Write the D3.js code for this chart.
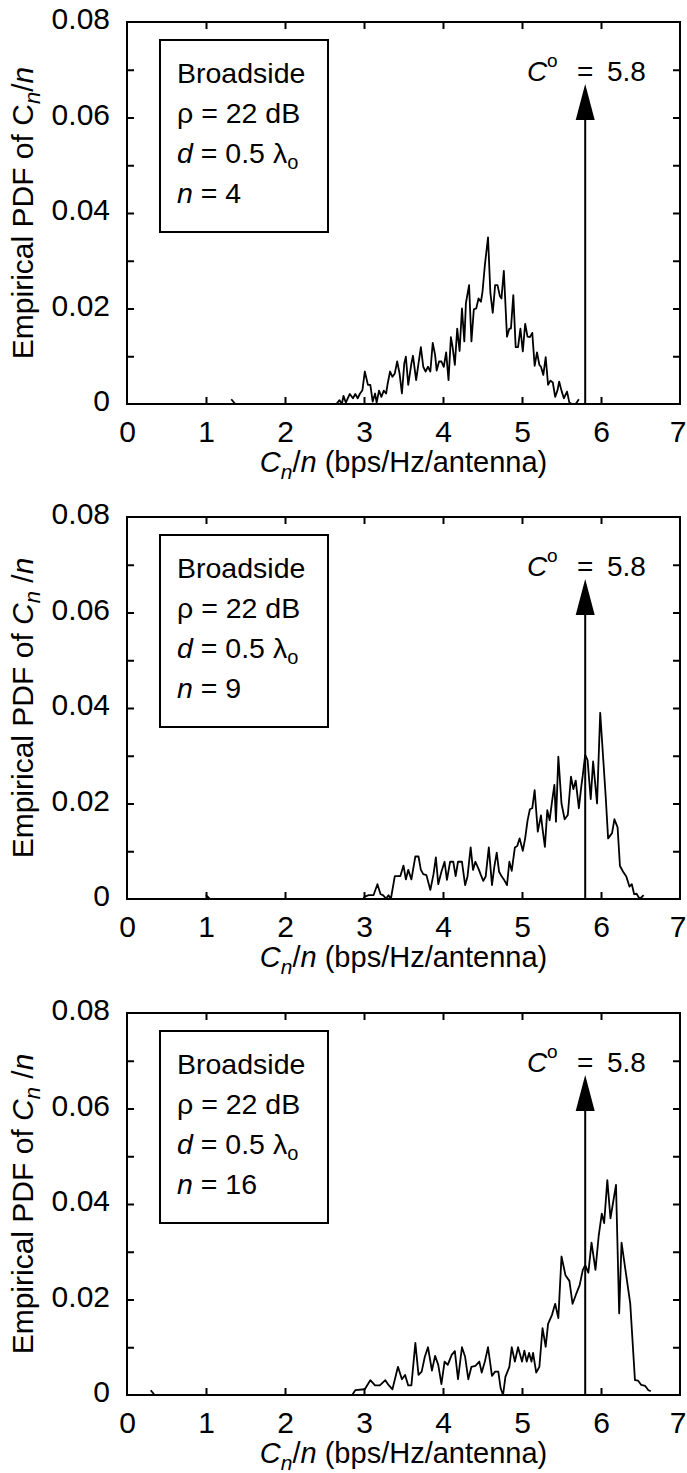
<!DOCTYPE html>
<head>
    <meta name="viewport" content="width=device-width, initial-scale=1">
    <style>
        body{
            margin:0;
            background:#fff;
        }
        svg{
            display:block;
            font-family: "Liberation Sans", Arial, sans-serif;
        }
        .frame{
            fill:none;
            stroke:#000;
            stroke-width:2px;
        }
        .ticks line{
            stroke:#000;
            stroke-width:2px;
        }
        .ticks .domain, .labels .domain{
            display:none;
        }
        .labels text{
            font-size:30px;
            fill:#000;
        }
        .curve{
            fill:none;
            stroke:#000;
            stroke-width:1.8px;
            stroke-linejoin:round;
        }
        .legend-box{
            fill:#fff;
            stroke:#000;
            stroke-width:2px;
        }
        .legend{
            font-size:28.5px;
            fill:#000;
        }
        .note{
            font-size:28px;
            fill:#000;
        }
        .axis-title{
            font-size:29px;
            fill:#000;
        }
        .y-title{
            font-size:30px;
        }
    </style>
</head>
<body>
    <div id="chart"></div>
    <script src="https://d3js.org/d3.v7.min.js"></script>
    <script>
        // data: empirical pdf of C_n/n for n = 4, 9, 16
        var xTickLabels = [0, 1, 2, 3, 4, 5, 6, 7];
        var yTickLabels = ["0", "0.02", "0.04", "0.06", "0.08"];
        var yTickValues = [0, 0.02, 0.04, 0.06, 0.08];
        var antennaCounts = [4, 9, 16];
        var capacityOpt = 5.8;
        var arrowBase = 0.0595, arrowTip = 0.067;

        var pdfN4 = [
            [1.32,0.0010],[1.37,0],[2.65,0],[2.69,0.0008],[2.72,0],[2.74,0.0017],[2.77,0.0003],[2.82,0.0021],
            [2.86,0.0012],[2.89,0.0021],[2.92,0.0012],[2.95,0.0022],[2.98,0.0029],[3.01,0.0068],[3.05,0.0040],
            [3.08,0.0040],[3.11,0.0005],[3.14,0.0022],[3.16,0.0003],[3.19,0.0028],[3.22,0.0015],[3.25,0.0028],
            [3.28,0.0022],[3.30,0.0043],[3.33,0.0068],[3.36,0.0057],[3.39,0.0064],[3.42,0.0089],[3.45,0.0064],
            [3.48,0.0022],[3.51,0.0085],[3.53,0.0099],[3.56,0.0040],[3.60,0.0085],[3.62,0.0101],[3.66,0.0050],
            [3.69,0.0085],[3.72,0.0119],[3.75,0.0078],[3.78,0.0068],[3.81,0.0078],[3.84,0.0068],[3.87,0.0128],
            [3.90,0.0103],[3.92,0.0070],[3.95,0.0089],[3.98,0.0089],[4.01,0.0078],[4.04,0.0108],[4.07,0.0050],
            [4.10,0.0140],[4.12,0.0121],[4.15,0.0082],[4.18,0.0158],[4.21,0.0111],[4.24,0.0200],[4.27,0.0131],
            [4.29,0.0211],[4.33,0.0249],[4.36,0.0131],[4.39,0.0198],[4.42,0.0200],[4.45,0.0221],[4.48,0.0214],
            [4.50,0.0235],[4.53,0.0291],[4.57,0.0349],[4.60,0.0232],[4.63,0.0191],[4.66,0.0249],[4.69,0.0249],
            [4.72,0.0226],[4.74,0.0221],[4.77,0.0279],[4.81,0.0141],[4.84,0.0158],[4.86,0.0158],[4.89,0.0228],
            [4.92,0.0119],[4.95,0.0119],[4.98,0.0158],[5.01,0.0110],[5.04,0.0168],[5.07,0.0141],[5.10,0.0140],
            [5.13,0.0149],[5.16,0.0080],[5.19,0.0108],[5.22,0.0082],[5.24,0.0078],[5.27,0.0061],[5.30,0.0098],
            [5.33,0.0040],[5.36,0.0049],[5.39,0.0045],[5.42,0.0015],[5.45,0.0029],[5.47,0.0047],[5.50,0.0028],
            [5.53,0.0012],[5.57,0.0026],[5.60,0.0003],[5.63,0],[5.68,0],[5.72,0.0010]
        ];

        var pdfN9 = [
            [1.00,0.0008],[1.05,0],[2.99,0],[3.01,0.0005],[3.06,0.0008],[3.12,0.0008],[3.17,0.0031],[3.21,0.0010],
            [3.24,0.0008],[3.28,0.0001],[3.31,0.0008],[3.34,0],[3.39,0.0048],[3.46,0.0048],[3.50,0.0070],
            [3.53,0.0041],[3.56,0.0061],[3.60,0.0041],[3.65,0.0089],[3.69,0.0089],[3.72,0.0061],[3.75,0.0052],
            [3.79,0.0050],[3.84,0.0019],[3.88,0.0052],[3.91,0.0087],[3.94,0.0031],[3.98,0.0057],[4.02,0.0078],
            [4.05,0.0040],[4.09,0.0078],[4.13,0.0078],[4.16,0.0048],[4.19,0.0078],[4.24,0.0078],[4.28,0.0029],
            [4.31,0.0047],[4.35,0.0108],[4.38,0.0061],[4.41,0.0078],[4.45,0.0063],[4.48,0.0050],[4.51,0.0038],
            [4.54,0.0047],[4.58,0.0108],[4.62,0.0029],[4.65,0.0068],[4.68,0.0097],[4.71,0.0057],[4.74,0.0048],
            [4.77,0.0041],[4.81,0.0029],[4.84,0.0078],[4.87,0.0059],[4.91,0.0108],[4.94,0.0111],[4.97,0.0127],
            [5.01,0.0101],[5.04,0.0127],[5.07,0.0164],[5.10,0.0188],[5.13,0.0190],[5.16,0.0228],[5.20,0.0141],
            [5.24,0.0175],[5.26,0.0147],[5.29,0.0109],[5.32,0.0186],[5.35,0.0165],[5.38,0.0204],[5.41,0.0239],
            [5.43,0.0162],[5.46,0.0298],[5.50,0.0200],[5.54,0.0167],[5.58,0.0176],[5.62,0.0256],[5.65,0.0230],
            [5.68,0.0248],[5.72,0.0190],[5.75,0.0235],[5.77,0.0260],[5.80,0.0302],[5.83,0.0291],[5.87,0.0209],
            [5.90,0.0288],[5.95,0.0200],[5.99,0.0390],[6.06,0.0213],[6.09,0.0127],[6.14,0.0138],[6.17,0.0167],
            [6.21,0.0150],[6.24,0.0069],[6.28,0.0057],[6.32,0.0047],[6.36,0.0026],[6.39,0.0031],[6.42,0.0010],
            [6.45,0.0011],[6.49,0],[6.54,0.0008]
        ];

        var pdfN16 = [
            [0.30,0.0010],[0.35,0],[2.85,0],[2.89,0.0010],[3.01,0.0012],[3.08,0.0031],[3.14,0.0020],[3.20,0.0020],
            [3.27,0.0031],[3.31,0.0021],[3.36,0.0012],[3.43,0.0059],[3.48,0.0033],[3.52,0.0042],[3.56,0.0020],
            [3.60,0.0020],[3.65,0.0109],[3.69,0.0042],[3.73,0.0049],[3.77,0.0080],[3.81,0.0100],[3.86,0.0051],
            [3.90,0.0082],[3.94,0.0063],[3.98,0.0023],[4.02,0.0070],[4.06,0.0063],[4.11,0.0084],[4.15,0.0092],
            [4.19,0.0033],[4.24,0.0100],[4.28,0.0080],[4.32,0.0033],[4.36,0.0059],[4.41,0.0061],[4.46,0.0070],
            [4.49,0.0047],[4.53,0.0070],[4.57,0.0100],[4.62,0.0040],[4.66,0.0049],[4.70,0.0049],[4.73,0.0014],
            [4.76,0],[4.79,0.0038],[4.84,0.0059],[4.87,0.0100],[4.91,0.0070],[4.95,0.0100],[5.00,0.0070],
            [5.03,0.0093],[5.06,0.0070],[5.09,0.0088],[5.12,0.0070],[5.14,0.0088],[5.18,0.0047],[5.22,0.0059],
            [5.26,0.0140],[5.30,0.0101],[5.33,0.0149],[5.38,0.0168],[5.42,0.0191],[5.46,0.0161],[5.50,0.0290],
            [5.55,0.0251],[5.60,0.0239],[5.64,0.0191],[5.68,0.0209],[5.73,0.0230],[5.77,0.0262],[5.80,0.0272],
            [5.84,0.0256],[5.88,0.0319],[5.93,0.0262],[5.97,0.0332],[6.01,0.0380],[6.04,0.0360],[6.08,0.0450],
            [6.12,0.0370],[6.15,0.0400],[6.19,0.0440],[6.23,0.0171],[6.26,0.0319],[6.37,0.0192],[6.43,0.0031],
            [6.47,0.0030],[6.51,0.0021],[6.56,0.0019],[6.60,0.0010],[6.63,0.0008]
        ];

        var series = [pdfN4, pdfN9, pdfN16];

        var width = 687, height = 1473;
        var margin = {left: 127, top: 22};
        var plotW = 553, plotH = 382;
        var panelTop = [22, 517, 1013];

        var svg = d3.select("#chart").append("svg")
            .attr("width", width)
            .attr("height", height);

        var x = d3.scaleLinear().domain([0, 7]).range([0, plotW]);
        var y = d3.scaleLinear().domain([0, 0.08]).range([plotH, 0]);

        var line = d3.line()
            .x(function(d) { return x(d[0]); })
            .y(function(d) { return y(d[1]); });

        var innerX = d3.range(1, 7);
        var innerY = [0.01, 0.02, 0.03, 0.04, 0.05, 0.06, 0.07];

        antennaCounts.forEach(function(n, i) {
            var g = svg.append("g")
                .attr("transform", "translate(" + margin.left + "," + panelTop[i] + ")");

            // inward ticks on all four sides
            g.append("g").attr("class", "ticks")
                .attr("transform", "translate(0," + plotH + ")")
                .call(d3.axisBottom(x).tickValues(innerX).tickSizeInner(-7).tickSizeOuter(0).tickFormat(""));
            g.append("g").attr("class", "ticks")
                .call(d3.axisTop(x).tickValues(innerX).tickSizeInner(-7).tickSizeOuter(0).tickFormat(""));
            g.append("g").attr("class", "ticks")
                .call(d3.axisLeft(y).tickValues(innerY).tickSizeInner(-7).tickSizeOuter(0).tickFormat(""));
            g.append("g").attr("class", "ticks")
                .attr("transform", "translate(" + plotW + ",0)")
                .call(d3.axisRight(y).tickValues(innerY).tickSizeInner(-7).tickSizeOuter(0).tickFormat(""));

            // tick labels
            g.append("g").attr("class", "labels")
                .attr("transform", "translate(0," + plotH + ")")
                .call(d3.axisBottom(x).tickValues(xTickLabels).tickSize(0).tickPadding(17).tickFormat(d3.format("d")))
                .selectAll("text")
                .attr("dx", function(d) { return d === 7 ? -2.5 : 0; });
            g.append("g").attr("class", "labels")
                .call(d3.axisLeft(y).tickValues(yTickValues).tickSize(0).tickPadding(17)
                    .tickFormat(function(d, k) { return yTickLabels[k]; }))
                .selectAll("text").attr("dy", "0.22em");

            // curve
            g.append("path")
                .datum(series[i])
                .attr("class", "curve")
                .attr("d", line);

            // C^o arrow
            var ax = x(capacityOpt);
            g.append("line")
                .attr("x1", ax).attr("x2", ax)
                .attr("y1", y(0)).attr("y2", y(arrowBase))
                .attr("stroke", "#000").attr("stroke-width", 2);
            g.append("path")
                .attr("d", "M" + (ax - 9.5) + "," + y(arrowBase) + "L" + ax + "," + y(arrowTip) +
                    "L" + (ax + 9.5) + "," + y(arrowBase) + "Z")
                .attr("fill", "#000");

            var note = g.append("text").attr("class", "note").attr("y", 59);
            note.append("tspan").attr("x", 400).attr("font-style", "italic").text("C");
            note.append("tspan").attr("x", 420).attr("dy", -14).attr("font-size", 19).text("o");
            note.append("tspan").attr("x", 450).attr("dy", 14).text("=");
            note.append("tspan").attr("x", 480).text("5.8");

            // frame
            g.append("rect").attr("class", "frame")
                .attr("width", plotW).attr("height", plotH);

            // legend box
            g.append("rect").attr("class", "legend-box")
                .attr("x", 33).attr("y", 18).attr("width", 168).attr("height", 192);
            var lg = g.append("text").attr("class", "legend").attr("x", 50);
            lg.append("tspan").attr("x", 50).attr("y", 61).text("Broadside");
            lg.append("tspan").attr("x", 50).attr("y", 101).text("\u03c1 = 22 dB");
            lg.append("tspan").attr("x", 50).attr("y", 141).attr("font-style", "italic").text("d");
            lg.append("tspan").text(" = 0.5 \u03bb");
            lg.append("tspan").attr("font-size", 20).attr("dy", 6).text("o");
            lg.append("tspan").attr("x", 50).attr("y", 181).attr("font-style", "italic").text("n");
            lg.append("tspan").text(" = " + n);

            // x title
            var xt = g.append("text").attr("class", "axis-title")
                .attr("x", plotW / 2).attr("y", plotH + 68).attr("text-anchor", "middle");
            xt.append("tspan").attr("font-style", "italic").text("C");
            xt.append("tspan").attr("font-style", "italic").attr("font-size", 21).attr("dy", 7).text("n");
            xt.append("tspan").attr("dy", -7).text("/");
            xt.append("tspan").attr("font-style", "italic").text("n");
            xt.append("tspan").text(" (bps/Hz/antenna)");

            // y title
            var yt = g.append("text").attr("class", "axis-title y-title")
                .attr("transform", "translate(" + (33 - margin.left) + "," + (plotH / 2) + ") rotate(-90)")
                .attr("text-anchor", "middle");
            yt.append("tspan").text("Empirical PDF of ");
            yt.append("tspan").attr("font-style", i === 0 ? "normal" : "italic").text("C");
            yt.append("tspan").attr("font-style", "italic").attr("font-size", 22).attr("dy", 7).text("n");
            yt.append("tspan").attr("dy", -7).text(i === 0 ? "/" : " /");
            yt.append("tspan").attr("font-style", "italic").text("n");
        });
    </script>
</body>
